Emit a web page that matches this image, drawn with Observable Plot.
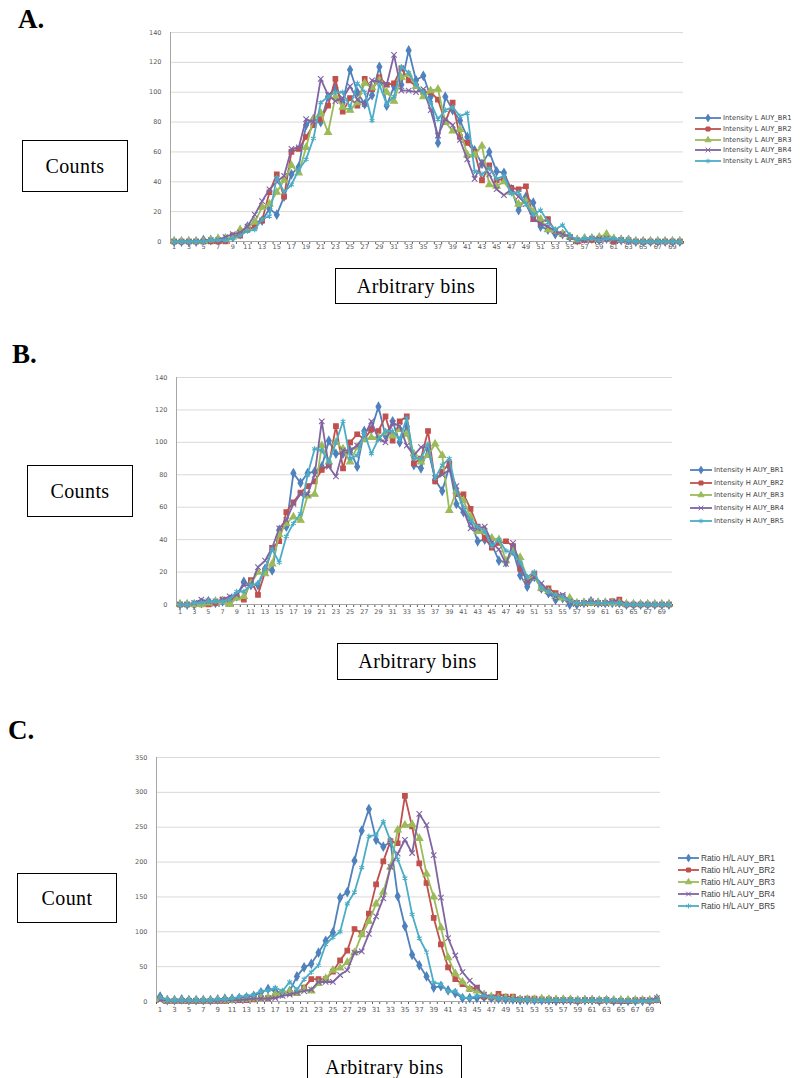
<!DOCTYPE html>
<html>
<head>
<meta charset="utf-8">
<script src="https://cdn.jsdelivr.net/npm/d3@7"></script>
<script src="https://cdn.jsdelivr.net/npm/@observablehq/plot@0.6"></script>
<style>
  html, body { margin: 0; padding: 0; background: #fff; }
  #page { position: relative; width: 809px; height: 1078px; overflow: hidden; background: #fff; }
  .panel { position: absolute; left: 0; }
  .tag { position: absolute; font-family: "Liberation Serif", "Times New Roman", serif; font-weight: bold; font-size: 27px; line-height: 1; color: #000; }
  .box { position: absolute; box-sizing: border-box; border: 1.5px solid #000; display: flex; align-items: center; justify-content: center;
         font-family: "Liberation Serif", "Times New Roman", serif; font-size: 20px; letter-spacing: 0.4px; color: #000; background: #fff; }
  .legend { position: absolute; color: #404040; }
  .legend .row { position: absolute; left: 0; display: flex; align-items: center; white-space: nowrap; }
  .legend svg { display: block; margin-right: 2px; }
</style>
</head>
<body>
<div id="page"></div>
<script>
// Bins along the category axis and the labels shown under it
const bins = d3.range(1, 71);
const xTickLabels = [1, 3, 5, 7, 9, 11, 13, 15, 17, 19, 21, 23, 25, 27, 29, 31, 33, 35, 37, 39, 41, 43, 45, 47, 49, 51, 53, 55, 57, 59, 61, 63, 65, 67, 69];
const yTicksIntensity = [0, 20, 40, 60, 80, 100, 120, 140];
const yTicksRatio = [0, 50, 100, 150, 200, 250, 300, 350];

const seriesColors = ["#4f81bd", "#c0504d", "#9bbb59", "#8064a2", "#4bacc6"];
const seriesSymbols = ["diamond", "square", "triangle", "times", "asterisk"];

// A. Intensity L
const namesL = ["Intensity L AUY_BR1", "Intensity L AUY_BR2", "Intensity L AUY_BR3", "Intensity L AUY_BR4", "Intensity L AUY_BR5"];
const intensityL_BR1 = [0,0,0,0,1,1,1,2,3,5, 10,13,14,22,18,30,45,50,78,82, 80,97,103,93,115,100,92,98,117,91, 104,105,128,108,111,97,66,97,88,81, 70,61,52,60,47,46,35,21,30,26, 10,8,5,5,3,1,2,2,1,2, 1,1,1,0,0,0,0,0,0,0];
const intensityL_BR2 = [0,0,0,0,0,0,0,0,4,4, 8,10,14,33,45,30,60,62,70,78, 82,91,109,87,96,91,109,102,110,105, 106,116,108,104,100,100,95,80,93,70, 66,60,41,51,41,42,36,35,37,15, 13,15,7,5,3,0,1,1,1,2, 0,1,1,0,0,0,0,0,0,0];
const intensityL_BR3 = [0,0,0,0,0,1,2,2,3,8, 9,13,23,25,33,41,51,46,63,82, 86,73,97,90,88,93,106,103,108,100, 94,110,112,104,97,101,102,80,74,75, 58,58,64,38,37,40,33,25,27,20, 15,8,7,5,3,1,2,2,3,5, 2,1,1,0,0,0,0,0,0,0];
const intensityL_BR4 = [0,0,0,0,0,1,1,3,5,6, 10,18,27,35,40,44,62,63,82,80, 109,98,94,96,104,95,92,108,107,105, 125,101,101,100,102,88,71,82,78,68, 55,42,53,45,35,31,35,30,25,15, 12,10,7,5,3,1,1,2,2,2, 1,1,0,0,0,0,0,0,0,0];
const intensityL_BR5 = [0,0,0,0,0,1,1,1,2,4, 7,8,15,17,43,33,38,48,55,69, 93,97,100,100,90,106,100,81,105,92, 97,117,113,105,100,93,82,88,90,84, 86,47,45,49,42,44,32,33,25,18, 21,13,8,11,4,1,2,2,1,2, 2,1,1,0,0,0,0,0,0,0];

// B. Intensity H
const namesH = ["Intensity H AUY_BR1", "Intensity H AUY_BR2", "Intensity H AUY_BR3", "Intensity H AUY_BR4", "Intensity H AUY_BR5"];
const intensityH_BR1 = [0,0,0,1,2,1,2,3,5,14, 12,12,22,21,46,48,81,75,81,82, 85,101,93,93,95,85,107,108,122,104, 113,100,110,86,84,96,77,70,85,62, 57,52,39,40,37,27,26,33,18,11, 17,10,7,3,4,0,0,1,2,1, 1,1,1,0,0,0,0,0,0,0];
const intensityH_BR2 = [0,0,0,0,0,1,3,2,5,3, 15,6,20,35,39,57,63,69,73,76, 83,86,110,84,100,105,102,108,107,116, 101,113,116,87,90,107,76,82,87,68, 68,59,48,41,35,38,39,36,22,15, 19,10,10,7,5,2,1,1,1,1, 1,2,3,0,0,0,0,0,0,0];
const intensityH_BR3 = [0,0,0,0,1,2,2,0,4,5, 13,20,19,25,43,50,54,52,67,68, 98,88,100,96,88,97,102,103,103,106, 104,108,105,93,88,92,99,92,58,70, 64,54,45,45,41,40,27,33,29,16, 17,10,8,5,4,4,1,1,1,1, 1,1,1,0,0,0,0,0,0,0];
const intensityH_BR4 = [0,0,1,3,2,2,3,5,6,12, 12,23,27,35,47,52,62,68,68,80, 113,85,79,95,95,98,104,113,102,100, 112,110,98,92,97,97,78,80,83,73, 58,47,47,48,38,34,25,38,24,14, 17,13,8,5,6,2,1,1,2,1, 1,2,1,0,0,0,0,0,0,0];
const intensityH_BR5 = [0,0,1,1,2,2,2,3,8,8, 12,13,22,34,26,42,50,56,80,96, 95,88,100,113,90,92,106,93,102,107, 107,102,115,90,90,99,78,86,90,70, 60,52,48,45,36,40,33,32,26,17, 20,10,8,6,5,2,1,1,1,1, 1,1,1,0,0,0,0,0,0,0];

// C. Ratio H/L
const namesR = ["Ratio H/L AUY_BR1", "Ratio H/L AUY_BR2", "Ratio H/L AUY_BR3", "Ratio H/L AUY_BR4", "Ratio H/L AUY_BR5"];
const ratio_BR1 = [7,2,2,3,2,2,2,2,3,4, 4,5,6,8,13,18,15,12,15,36, 49,54,70,87,99,149,157,202,245,276, 232,222,229,151,108,67,52,36,20,22, 16,12,5,5,5,6,5,4,3,3, 2,2,2,2,2,1,2,2,1,2, 2,1,2,1,1,1,1,1,1,4];
const ratio_BR2 = [4,1,1,1,1,1,1,1,1,1, 2,2,2,3,5,5,8,12,12,12, 20,32,32,32,43,59,73,104,98,126, 168,201,230,227,295,251,198,170,120,82, 49,32,25,18,20,7,6,11,7,7, 3,4,4,3,3,2,2,2,1,2, 2,1,2,1,1,1,2,2,1,2];
const ratio_BR3 = [3,1,1,1,1,1,1,1,2,2, 2,3,3,4,5,6,10,13,14,12, 18,15,26,33,45,48,56,70,96,115, 140,157,193,246,253,254,234,183,150,106, 63,40,28,18,15,10,7,5,5,4, 3,3,3,4,3,3,3,3,2,2, 2,2,2,2,2,2,2,2,2,3];
const ratio_BR4 = [2,1,1,1,1,1,1,1,1,2, 2,2,3,4,4,4,5,8,10,13, 15,17,28,28,28,38,45,70,72,97, 122,148,193,212,232,213,269,253,210,149, 91,66,42,30,20,10,6,5,4,3, 3,3,2,2,2,2,2,2,2,2, 2,2,2,1,1,1,1,2,2,5];
const ratio_BR5 = [6,2,2,2,2,2,2,2,3,3, 4,7,8,10,15,16,20,15,28,17, 32,42,52,82,92,100,140,157,192,237, 239,258,230,204,177,125,91,71,27,25, 15,15,6,5,8,8,6,5,4,3, 3,3,2,2,2,2,2,2,2,2, 2,2,2,2,1,1,1,1,1,2];

const d3Symbols = [d3.symbolDiamond, d3.symbolSquare, d3.symbolTriangle, d3.symbolTimes, d3.symbolAsterisk];

function panelPlot({names, series, yTicks, svgTop, svgHeight, frameLeft, frameRight, frameTop, frameBottom, labelDy, labelSize}) {
  const rows = series.flatMap((vals, i) => vals.map((v, j) => ({bin: bins[j], value: v, series: names[i]})));
  const edges = [bins[0] - 0.5, ...bins.map(b => b + 0.5)];
  const yMax = yTicks[yTicks.length - 1];
  const marks = [
    Plot.ruleY(yTicks.filter(t => t > 0), {stroke: "#d9d9d9", strokeWidth: 1}),
    Plot.ruleY([0], {stroke: "#a6a6a6", strokeWidth: 1}),
    Plot.ruleX([edges[0]], {stroke: "#a6a6a6", strokeWidth: 1}),
    Plot.text(xTickLabels, {x: d => d, text: d => String(d), frameAnchor: "bottom", lineAnchor: "top", dy: labelDy, fill: "#595959", fontSize: labelSize}),
    // each replicate: its line, then its markers on top
    ...names.flatMap(name => {
      const d = rows.filter(r => r.series === name);
      return [
        Plot.line(d, {x: "bin", y: "value", stroke: "series", strokeWidth: 1.8}),
        Plot.dot(d, {x: "bin", y: "value", symbol: "series", stroke: "series", fill: "series", r: 2.6, strokeWidth: 1.1})
      ];
    })
  ];
  const svg = Plot.plot({
    width: 809,
    height: svgHeight,
    marginLeft: frameLeft,
    marginRight: 809 - frameRight,
    marginTop: frameTop - svgTop,
    marginBottom: svgTop + svgHeight - frameBottom,
    x: {domain: [edges[0], edges[edges.length - 1]], ticks: edges, tickSize: 3, tickFormat: () => "", label: null},
    y: {domain: [0, yMax], ticks: yTicks, tickSize: 0, tickPadding: 9, label: null},
    color: {domain: names, range: seriesColors},
    symbol: {domain: names, range: seriesSymbols},
    style: {fontFamily: "DejaVu Sans, sans-serif", fontSize: "6.5px", color: "#595959", background: "transparent", overflow: "visible"},
    marks
  });
  svg.classList.add("panel");
  svg.style.top = svgTop + "px";
  return svg;
}

function legend({names, left, top, step, lineWidth, font, fontSize}) {
  const div = document.createElement("div");
  div.className = "legend";
  div.style.left = left + "px";
  div.style.top = top + "px";
  names.forEach((name, i) => {
    const row = document.createElement("div");
    row.className = "row";
    row.style.top = (i * step) + "px";
    row.style.height = "10px";
    row.style.fontFamily = font;
    row.style.fontSize = fontSize + "px";
    const ns = "http://www.w3.org/2000/svg";
    const s = document.createElementNS(ns, "svg");
    s.setAttribute("width", lineWidth);
    s.setAttribute("height", 10);
    const ln = document.createElementNS(ns, "line");
    ln.setAttribute("x1", 0); ln.setAttribute("x2", lineWidth);
    ln.setAttribute("y1", 5); ln.setAttribute("y2", 5);
    ln.setAttribute("stroke", seriesColors[i]); ln.setAttribute("stroke-width", 1.8);
    s.appendChild(ln);
    const p = document.createElementNS(ns, "path");
    p.setAttribute("d", d3.symbol(d3Symbols[i], 16)());
    p.setAttribute("transform", `translate(${lineWidth / 2},5)`);
    p.setAttribute("fill", seriesColors[i]);
    p.setAttribute("stroke", seriesColors[i]);
    p.setAttribute("stroke-width", 1);
    s.appendChild(p);
    row.appendChild(s);
    const t = document.createElement("span");
    t.textContent = name;
    row.appendChild(t);
    div.appendChild(row);
  });
  return div;
}

function addBox(text, left, top, width, height) {
  const b = document.createElement("div");
  b.className = "box";
  Object.assign(b.style, {left: left + "px", top: top + "px", width: width + "px", height: height + "px"});
  b.textContent = text;
  return b;
}

function addTag(text, left, top) {
  const t = document.createElement("div");
  t.className = "tag";
  Object.assign(t.style, {left: left + "px", top: top + "px"});
  t.textContent = text;
  return t;
}

const page = document.getElementById("page");

page.appendChild(panelPlot({
  names: namesL,
  series: [intensityL_BR1, intensityL_BR2, intensityL_BR3, intensityL_BR4, intensityL_BR5],
  yTicks: yTicksIntensity,
  svgTop: 0, svgHeight: 262, frameLeft: 170, frameRight: 683, frameTop: 32, frameBottom: 241, labelDy: 3, labelSize: 6.5
}));
page.appendChild(panelPlot({
  names: namesH,
  series: [intensityH_BR1, intensityH_BR2, intensityH_BR3, intensityH_BR4, intensityH_BR5],
  yTicks: yTicksIntensity,
  svgTop: 350, svgHeight: 272, frameLeft: 176, frameRight: 672, frameTop: 377, frameBottom: 604, labelDy: 5, labelSize: 6.5
}));
page.appendChild(panelPlot({
  names: namesR,
  series: [ratio_BR1, ratio_BR2, ratio_BR3, ratio_BR4, ratio_BR5],
  yTicks: yTicksRatio,
  svgTop: 735, svgHeight: 285, frameLeft: 156, frameRight: 660, frameTop: 757, frameBottom: 1001, labelDy: 6, labelSize: 7
}));

page.appendChild(legend({names: namesL, left: 695, top: 113, step: 10.8, lineWidth: 26, font: "DejaVu Sans, sans-serif", fontSize: 6.8}));
page.appendChild(legend({names: namesH, left: 690, top: 465, step: 12.7, lineWidth: 22, font: "DejaVu Sans, sans-serif", fontSize: 6.8}));
page.appendChild(legend({names: namesR, left: 678, top: 853, step: 12, lineWidth: 21, font: "Liberation Sans, Arial, sans-serif", fontSize: 8.3}));

page.appendChild(addTag("A.", 18, 6));
page.appendChild(addTag("B.", 12, 341));
page.appendChild(addTag("C.", 8, 717));

page.appendChild(addBox("Counts", 22, 140, 106, 52));
page.appendChild(addBox("Arbitrary bins", 335, 268, 162, 36));
page.appendChild(addBox("Counts", 27, 465, 106, 52));
page.appendChild(addBox("Arbitrary bins", 337, 643, 161, 37));
page.appendChild(addBox("Count", 17, 873, 100, 50));
page.appendChild(addBox("Arbitrary bins", 307, 1045, 155, 45));
</script>
</body>
</html>
